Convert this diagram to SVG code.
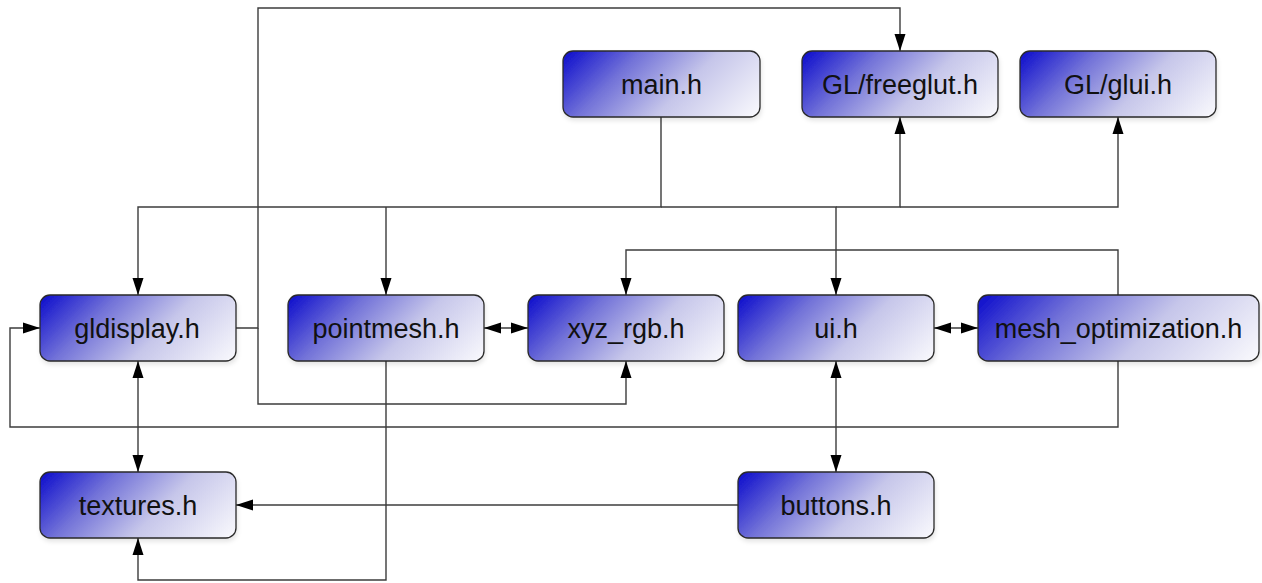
<svg xmlns="http://www.w3.org/2000/svg" width="1262" height="583" viewBox="0 0 1262 583">
  <style>
    .node rect { fill: url(#nodeFill); stroke: #2a2a2a; stroke-width: 1.3; filter: url(#shadow); }
    .node rect.wide { fill: url(#nodeFillWide); }
    .node text { font-family: "Liberation Sans", Arial, sans-serif; font-size: 27px; fill: #111; text-anchor: middle; }
    .edges path { fill: none; stroke: #3c3c3c; stroke-width: 1.4; }
    .edges .one { marker-end: url(#arrow); }
    .edges .both { marker-start: url(#arrow); marker-end: url(#arrow); }
  </style>
  <defs>
    <!-- 45 degree fade from the top-left corner, for 196x66 and 281x66 boxes -->
    <linearGradient id="nodeFill" x1="0" y1="0" x2="1.2" y2="0.404">
      <stop offset="0" stop-color="#0a0acc"/>
      <stop offset="0.3" stop-color="#7272d8"/>
      <stop offset="0.6" stop-color="#c6c6ea"/>
      <stop offset="1" stop-color="#fafafd"/>
    </linearGradient>
    <linearGradient id="nodeFillWide" href="#nodeFill" x1="0" y1="0" x2="1.17" y2="0.275"/>
    <filter id="shadow" x="-5%" y="-10%" width="110%" height="130%">
      <feDropShadow dx="1" dy="3" stdDeviation="2" flood-color="#000" flood-opacity="0.1"/>
    </filter>
    <marker id="arrow" markerUnits="userSpaceOnUse" markerWidth="18" markerHeight="12" refX="17" refY="6" orient="auto-start-reverse">
      <path d="M0,0.5 L17,6 L0,11.5 z" fill="#000"/>
    </marker>
  </defs>

  <!-- include relationships -->
  <g id="connectors" class="edges">
    <path class="one" d="M236,328 H258 V8 H900 V51"/>
    <path class="one" d="M258,328 V404 H626 V361"/>
    <path class="one" d="M661,117 V207 H138 V295"/>
    <path class="one" d="M386,207 V295"/>
    <path class="one" d="M661,207 H836 V295"/>
    <path class="one" d="M836,207 H900 V117"/>
    <path class="one" d="M900,207 H1118 V117"/>
    <path class="one" d="M1118,295 V250 H626 V295"/>
    <path class="one" d="M1118,361 V427 H10 V328 H40"/>
    <path class="both" d="M484,328 H528"/>
    <path class="both" d="M934,328 H978"/>
    <path class="both" d="M138,361 V472"/>
    <path class="both" d="M836,361 V472"/>
    <path class="one" d="M738,505 H236"/>
    <path class="one" d="M386,361 V580 H138 V538"/>
  </g>

  <g id="main_h" class="node">
    <rect x="563" y="51" width="197" height="66" rx="10"/>
    <text x="661.5" y="93.5">main.h</text>
  </g>
  <g id="freeglut_h" class="node">
    <rect x="802" y="51" width="196" height="66" rx="10"/>
    <text x="900" y="93.5">GL/freeglut.h</text>
  </g>
  <g id="glui_h" class="node">
    <rect x="1020" y="51" width="196" height="66" rx="10"/>
    <text x="1118" y="93.5">GL/glui.h</text>
  </g>
  <g id="gldisplay_h" class="node">
    <rect x="40" y="295" width="196" height="66" rx="10"/>
    <text x="137" y="337.5">gldisplay.h</text>
  </g>
  <g id="pointmesh_h" class="node">
    <rect x="288" y="295" width="196" height="66" rx="10"/>
    <text x="386" y="337.5">pointmesh.h</text>
  </g>
  <g id="xyz_rgb_h" class="node">
    <rect x="528" y="295" width="196" height="66" rx="10"/>
    <text x="626" y="337.5">xyz_rgb.h</text>
  </g>
  <g id="ui_h" class="node">
    <rect x="738" y="295" width="196" height="66" rx="10"/>
    <text x="836" y="337.5">ui.h</text>
  </g>
  <g id="mesh_optimization_h" class="node">
    <rect class="wide" x="978" y="295" width="281" height="66" rx="10"/>
    <text x="1118.5" y="337.5">mesh_optimization.h</text>
  </g>
  <g id="textures_h" class="node">
    <rect x="40" y="472" width="196" height="66" rx="10"/>
    <text x="138" y="514.5">textures.h</text>
  </g>
  <g id="buttons_h" class="node">
    <rect x="738" y="472" width="196" height="66" rx="10"/>
    <text x="836" y="514.5">buttons.h</text>
  </g>
</svg>
